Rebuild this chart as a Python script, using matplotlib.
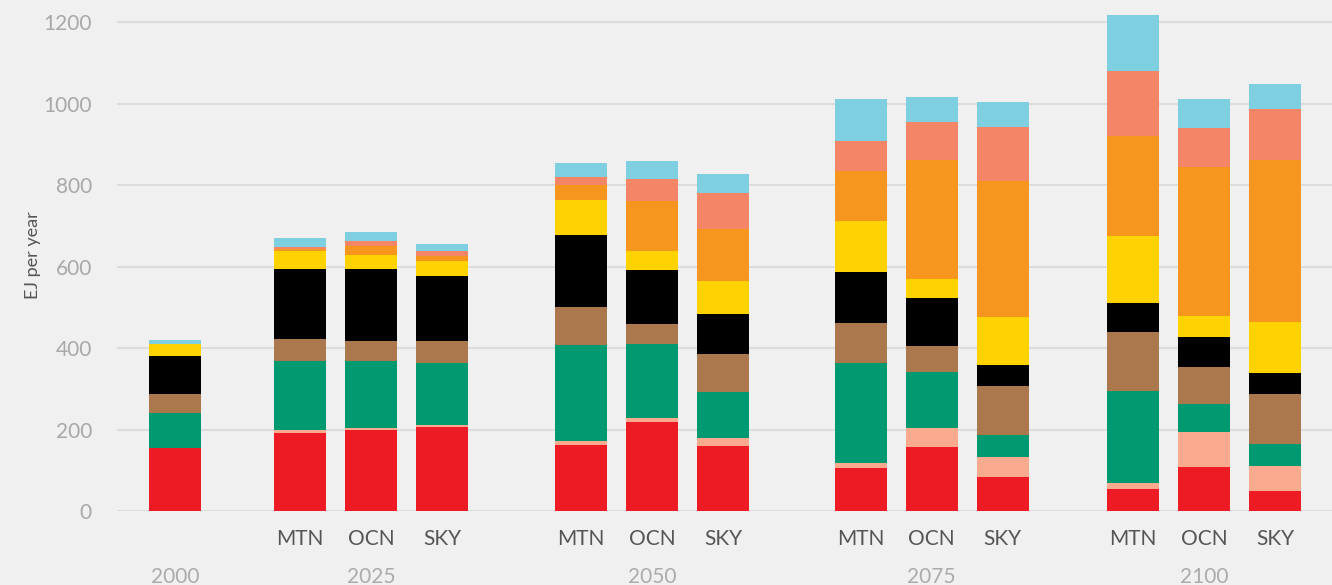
import numpy as np
import matplotlib
matplotlib.use('Agg')
import matplotlib.pyplot as plt
import matplotlib.transforms as mtransforms

# energy sources, stacked bottom -> top (EJ per year)
sources = ['oil_red', 'pale', 'green', 'brown', 'black', 'yellow', 'orange', 'salmon', 'blue']
colors = ['#ed1c24', '#f9aa8f', '#009970', '#ab774d', '#000000', '#ffd200', '#f7961e', '#f58567', '#7ecfe0']

years = ['2000', '2025', '2050', '2075', '2100']
scenarios = ['MTN', 'OCN', 'SKY']

# one list per bar: 2000, then MTN/OCN/SKY for 2025, 2050, 2075, 2100
bar_labels = ['', 'MTN', 'OCN', 'SKY', 'MTN', 'OCN', 'SKY',
              'MTN', 'OCN', 'SKY', 'MTN', 'OCN', 'SKY']
red    = [154, 192, 200, 205, 162, 218, 160, 105, 157,  83,  54, 108,  49]
pale   = [  0,   7,   4,   5,  10,  10,  19,  13,  47,  49,  15,  86,  61]
green  = [ 87, 168, 163, 152, 235, 182, 113, 245, 137,  54, 225,  69,  54]
brown  = [ 45,  55,  49,  56,  94,  49,  93,  98,  64, 121, 145,  90, 123]
black  = [ 95, 173, 177, 159, 176, 132,  98, 126, 118,  51,  71,  74,  52]
yellow = [ 30,  42,  36,  37,  86,  47,  81, 125,  46, 118, 165,  52, 125]
orange = [  0,   7,  22,  12,  37, 123, 128, 122, 292, 334, 245, 365, 397]
salmon = [  0,   5,  12,  11,  20,  54,  88,  74,  94, 132, 160,  96, 125]
blue   = [  9,  20,  22,  19,  34,  44,  47, 103,  61,  62, 137,  71,  62]

series = [red, pale, green, brown, black, yellow, orange, salmon, blue]

# x layout: 2000 alone, then groups of three
group_start = [0, 1.76, 5.72, 9.66, 13.5]
x = [group_start[0]]
for g in group_start[1:]:
    x += [g, g + 1, g + 2]
x = np.array(x)

bg = '#f0f0f0'
fig = plt.figure(figsize=(13.32, 5.85), dpi=100, facecolor=bg)
ax = fig.add_axes([117 / 1332, 74 / 585, 1 - 117 / 1332, 511 / 585])
ax.set_facecolor(bg)

bottom = np.zeros(len(x))
for vals, c in zip(series, colors):
    ax.bar(x, vals, width=0.73, bottom=bottom, color=c, linewidth=0, zorder=3)
    bottom += np.array(vals)

ax.set_xlim(-0.817, 16.30)
ax.set_ylim(0, 1254)
ax.set_yticks(range(0, 1201, 200))
ax.tick_params(axis='y', length=0, pad=18, labelsize=15, labelcolor='#a8a8a8')
ax.grid(axis='y', color='#dcdcdc', linewidth=1.5, zorder=0)
for s in ax.spines.values():
    s.set_visible(False)

ax.set_xticks(x)
ax.set_xticklabels(bar_labels, fontsize=15, color='#555555', family='Lato')
ax.tick_params(axis='x', length=0, pad=13)
for lbl in ax.get_yticklabels():
    lbl.set_family('Lato')

# year labels under each group
trans = mtransforms.blended_transform_factory(ax.transData, ax.transAxes)
year_x = [group_start[0]] + [g + 1 for g in group_start[1:]]
for yx, yr in zip(year_x, years):
    ax.text(yx, -0.13, yr, transform=trans, ha='center', va='center',
            fontsize=15, color='#ababab', family='Lato')

ax.set_ylabel('EJ per year', fontsize=13, color='#555555', family='Lato', labelpad=2)

fig.savefig('out.png', dpi=100, facecolor=bg)
